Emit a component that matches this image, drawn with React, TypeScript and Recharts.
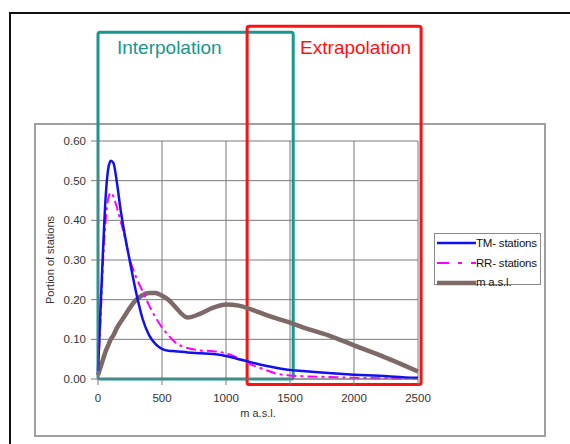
import React from "react";
import {
  LineChart,
  Line,
  XAxis,
  YAxis,
  CartesianGrid,
  Legend,
  ReferenceArea,
  Label,
} from "recharts";

// Elevation (m a.s.l.) sampling points
const elevation = [
  0, 20, 40, 60, 80, 100, 120, 150, 175, 200, 250, 300, 350, 400, 450, 500, 550,
  600, 700, 800, 900, 1000, 1100, 1200, 1300, 1400, 1500, 1600, 1800, 2000, 2200,
  2400, 2500,
];

// Portion of temperature stations per elevation
const tmStations = [
  0.02, 0.18, 0.33, 0.46, 0.53, 0.55, 0.545, 0.49, 0.43, 0.38, 0.295, 0.215, 0.15,
  0.11, 0.088, 0.076, 0.071, 0.07, 0.067, 0.065, 0.063, 0.058, 0.05, 0.042, 0.034,
  0.028, 0.023, 0.02, 0.015, 0.011, 0.008, 0.004, 0.003,
];

// Portion of precipitation stations per elevation
const rrStations = [
  0.02, 0.15, 0.3, 0.4, 0.455, 0.47, 0.46, 0.43, 0.4, 0.37, 0.3, 0.255, 0.22,
  0.185, 0.155, 0.13, 0.11, 0.093, 0.078, 0.072, 0.07, 0.065, 0.052, 0.036, 0.024,
  0.013, 0.009, 0.007, 0.005, 0.003, 0.002, 0.001, 0.001,
];

// Portion of terrain per elevation
const terrain = [
  0.01, 0.03, 0.05, 0.07, 0.085, 0.1, 0.11, 0.13, 0.143, 0.155, 0.18, 0.2, 0.212,
  0.217, 0.217, 0.21, 0.2, 0.183, 0.155, 0.165, 0.18, 0.188, 0.185, 0.175, 0.163,
  0.152, 0.142, 0.13, 0.11, 0.085, 0.06, 0.033, 0.019,
];

const xTicks = [0, 500, 1000, 1500, 2000, 2500];
const yTicks = [0, 0.1, 0.2, 0.3, 0.4, 0.5, 0.6];

// Elevation / portion ranges of the two highlighted regions
const interpolationRange = { x1: 0, x2: 1525, y1: 0, y2: 0.874 };
const extrapolationRange = { x1: 1165, x2: 2524, y1: -0.014, y2: 0.889 };

const data = elevation.map((e, i) => ({
  elev: e,
  tm: tmStations[i],
  rr: rrStations[i],
  masl: terrain[i],
}));

const FONT = "'Liberation Sans', Arial, sans-serif";
const TEAL = "#17978f";
const RED = "#ff1010";
const BLUE = "#1010f0";
const MAGENTA = "#ff00ff";
const BROWN = "#7d6a68";

const legendItems = [
  { label: "TM- stations", color: BLUE, width: 2.5, dash: undefined as string | undefined, lineY: 8 },
  { label: "RR- stations", color: MAGENTA, width: 2, dash: "12 9 4 9", lineY: 8 },
  { label: "m a.s.l.", color: BROWN, width: 4.5, dash: undefined, lineY: 9 },
];

const LegendBox = () => (
  <div
    style={{
      width: 107,
      height: 52,
      border: "1px solid #8a8a8a",
      background: "#fff",
      fontFamily: FONT,
      fontSize: 11.5,
      color: "#111",
      boxSizing: "border-box",
    }}
  >
    {legendItems.map((it, i) => (
      <div
        key={it.label}
        style={{ position: "absolute", left: 3, top: 2 + i * 19.5, display: "flex", alignItems: "center", height: 16 }}
      >
        <svg width={39} height={16} style={{ display: "block" }}>
          <line
            x1={0}
            y1={it.lineY}
            x2={39}
            y2={it.lineY}
            stroke={it.color}
            strokeWidth={it.width}
            strokeDasharray={it.dash}
          />
        </svg>
        <span style={{ whiteSpace: "nowrap", letterSpacing: -0.2 }}>{it.label}</span>
      </div>
    ))}
  </div>
);

const regionTitle =
  (text: string, color: string, dx: number, dy: number) => (props: any) => {
    const vb = props.viewBox || {};
    return (
      <text
        x={vb.x + dx}
        y={vb.y + dy}
        fill={color}
        fontSize={19}
        fontFamily={FONT}
        textAnchor="start"
      >
        {text}
      </text>
    );
  };

export default function App() {
  return (
    <div
      style={{
        position: "absolute",
        left: 0,
        top: 0,
        width: 570,
        height: 444,
        overflow: "hidden",
        background: "#fff",
      }}
    >
      {/* outer frame */}
      <div
        style={{
          position: "absolute",
          left: 9,
          top: 12,
          width: 640,
          height: 600,
          border: "2px solid #111",
          boxSizing: "border-box",
        }}
      />
      {/* chart area frame */}
      <div
        style={{
          position: "absolute",
          left: 34,
          top: 123,
          width: 512,
          height: 314,
          border: "2px solid #a0a0a0",
          boxSizing: "border-box",
        }}
      />
      <div style={{ position: "absolute", left: 0, top: 0 }}>
        <LineChart
          width={570}
          height={444}
          data={data}
          margin={{ top: 141, right: 152, bottom: 35, left: 38 }}
        >
          <CartesianGrid stroke="#7a7a7a" strokeWidth={1} />
          <XAxis
            dataKey="elev"
            type="number"
            domain={[0, 2500]}
            ticks={xTicks}
            height={30}
            tickSize={6}
            tickMargin={9}
            stroke="#7a7a7a"
            tick={{ fill: "#333", fontSize: 11.5, fontFamily: FONT }}
          >
            <Label
              value="m a.s.l."
              position="insideBottom"
              offset={-8}
              style={{ fill: "#333", fontSize: 11, fontFamily: FONT }}
            />
          </XAxis>
          <YAxis
            type="number"
            domain={[0, 0.6]}
            ticks={yTicks}
            width={60}
            tickSize={7}
            tickMargin={5}
            stroke="#7a7a7a"
            tickFormatter={(v: number) => v.toFixed(2)}
            tick={{ fill: "#333", fontSize: 11.5, fontFamily: FONT }}
          >
            <Label
              value="Portion of stations"
              angle={-90}
              position="insideLeft"
              offset={12}
              style={{ textAnchor: "middle", fill: "#333", fontSize: 11, fontFamily: FONT }}
            />
          </YAxis>
          <Line
            type="monotone"
            dataKey="masl"
            name="m a.s.l."
            stroke={BROWN}
            strokeWidth={4.5}
            dot={false}
            isAnimationActive={false}
          />
          <Line
            type="monotone"
            dataKey="rr"
            name="RR- stations"
            stroke={MAGENTA}
            strokeWidth={2}
            strokeDasharray="10 4 3 4"
            dot={false}
            isAnimationActive={false}
          />
          <Line
            type="monotone"
            dataKey="tm"
            name="TM- stations"
            stroke={BLUE}
            strokeWidth={2.5}
            dot={false}
            isAnimationActive={false}
          />
          <ReferenceArea
            {...interpolationRange}
            ifOverflow="visible"
            fill="none"
            stroke={TEAL}
            strokeWidth={3}
            radius={2}
          >
            <Label content={regionTitle("Interpolation", TEAL, 19, 22)} />
          </ReferenceArea>
          <ReferenceArea
            {...extrapolationRange}
            ifOverflow="visible"
            fill="none"
            stroke={RED}
            strokeWidth={3}
            radius={2}
          >
            <Label content={regionTitle("Extrapolation", RED, 53, 28)} />
          </ReferenceArea>
          <Legend
            layout="vertical"
            align="center"
            verticalAlign="middle"
            content={() => <LegendBox />}
            wrapperStyle={{ left: 434, top: 233, width: 107, height: 52 }}
          />
        </LineChart>
      </div>
    </div>
  );
}
